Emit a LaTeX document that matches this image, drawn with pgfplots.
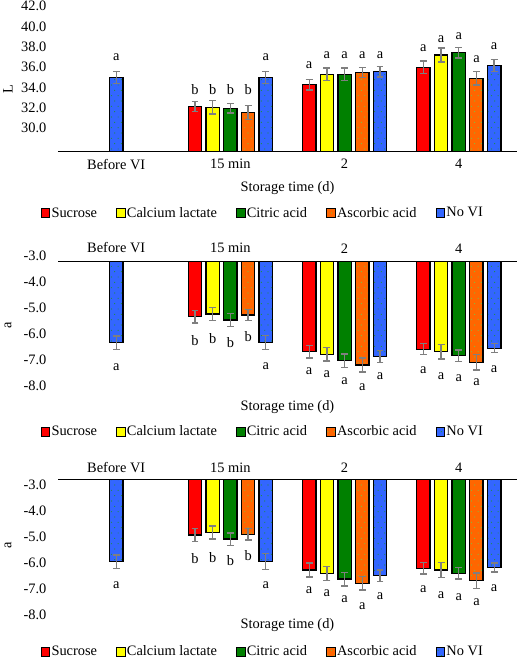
\documentclass[border=0pt]{standalone}
\usepackage{pgfplots}
\pgfplotsset{compat=1.18}
\usetikzlibrary{patterns}
\usepackage{fontspec}
\setmainfont{Liberation Serif}
\definecolor{cRed}{HTML}{FF0000}
\definecolor{cYel}{HTML}{FFFF00}
\definecolor{cGrn}{HTML}{008000}
\definecolor{cOrg}{HTML}{FF6600}
\definecolor{cBlu}{HTML}{3366FF}
\definecolor{cErr}{HTML}{7F7F7F}
\definecolor{dotA}{HTML}{7FBF3F}
\definecolor{dotB}{HTML}{1F8F3F}
\pgfdeclarepatternformonly{sparsedots}{\pgfqpoint{-1pt}{-1pt}}{\pgfqpoint{6pt}{9pt}}{\pgfqpoint{5pt}{8pt}}{%
  \pgfpathcircle{\pgfqpoint{1pt}{1pt}}{0.45pt}%
  \pgfpathcircle{\pgfqpoint{3.6pt}{5pt}}{0.45pt}%
  \pgfusepath{fill}}
\newcommand{\fnt}{\fontsize{10.8}{13}\selectfont}
\pgfplotsset{
  mybar/.style={ybar, bar width=0.117, bar shift=0pt, draw=black, line width=1pt,
    error bars/y dir=both, error bars/y explicit,
    error bars/error bar style={draw=cErr, line width=1pt},
    error bars/error mark options={rotate=90, draw=cErr, line width=1pt, mark size=2.6pt}},
  dotted bar/.style={postaction={pattern=sparsedots, pattern color=#1}},
  letters/.style={forget plot, only marks, mark=none, point meta=explicit symbolic,
    nodes near coords, nodes near coords style={anchor=center, font=\fnt}},
  base/.style={scale only axis, width=344.25pt, xmin=-0.51, xmax=3.51,
    xtick={0,1,2,3}, xticklabels={Before VI,15 min,2,4},
    axis y line=left, y axis line style={draw=none},
    major tick length=0pt,
    /pgf/number format/assume math mode=true,
    yticklabel style={xshift=-4.9pt, /pgf/number format/fixed, /pgf/number format/fixed zerofill, /pgf/number format/precision=1},
    font=\fnt,
    xlabel={Storage time (d)},
    legend columns=5,
    legend style={draw=none, fill=none, anchor=center, font=\fnt,
      nodes={inner sep=0.8pt},
      /tikz/every even column/.append style={column sep=13.4pt}},
    legend image code/.code={\draw[#1, draw=black, line width=0.8pt] (0pt,-3.3pt) rectangle (6.6pt,3.3pt);},
  },
  fixaxis/.style={every outer x axis line/.append style={-}, every inner x axis line/.append style={-},
    x axis line style={-, line width=1pt}, axis line style={-}},
}
\begin{document}
\fnt
\begin{tikzpicture}
\useasboundingbox (0,0) rectangle (387.75pt,-492.75pt);
% ---------------- L ----------------
\begin{axis}[base, at={(43.5pt,-113.78pt)}, anchor=south west,
  height=109.28pt, ymin=27.7, ymax=42, ytick={30,32,...,42},
  axis x line=bottom, fixaxis,
  xticklabel style={yshift=-2pt},
  xlabel style={at={(axis description cs:0.5,-0.251)}, anchor=center},
  ylabel={L}, ylabel style={at={(axis description cs:-0.109,0.43)}, anchor=center},
  legend style={at={(axis description cs:0.445,-0.423)}}]
\addplot[mybar, fill=cRed] coordinates {(0.69,32.13) +- (0,0.49) (1.69,34.28) +- (0,0.52) (2.69,35.99) +- (0,0.60)};
\addplot[mybar, fill=cYel] coordinates {(0.845,32.07) +- (0,0.67) (1.845,35.30) +- (0,0.60) (2.845,37.20) +- (0,0.69)};
\addplot[mybar, fill=cGrn] coordinates {(1,31.97) +- (0,0.46) (2,35.30) +- (0,0.60) (3,37.42) +- (0,0.52)};
\addplot[mybar, fill=cOrg, dotted bar=dotA] coordinates {(1.155,31.54) +- (0,0.67) (2.155,35.50) +- (0,0.49) (3.155,34.90) +- (0,0.65)};
\addplot[mybar, fill=cBlu, dotted bar=dotB] coordinates {(0,34.97) +- (0,0.60) (1.31,34.97) +- (0,0.60) (2.31,35.56) +- (0,0.52) (3.31,36.15) +- (0,0.57)};
\addplot[letters] coordinates {(0,36.97)[a] (0.69,33.83)[b] (0.845,33.83)[b] (1,33.83)[b] (1.155,33.83)[b] (1.31,36.97)[a]
  (1.69,36.15)[a] (1.845,37.2)[a] (2,37.2)[a] (2.155,37.2)[a] (2.31,37.2)[a]
  (2.69,37.85)[a] (2.845,38.74)[a] (3,39.06)[a] (3.155,36.77)[a] (3.31,38.08)[a]};
\legend{Sucrose,Calcium lactate,Citric acid,Ascorbic acid,No VI}
\end{axis}
% ---------------- a (middle) ----------------
\begin{axis}[base, at={(43.5pt,-195.98pt)}, anchor=north west,
  height=99.6pt, ymin=-8.3, ymax=-3.21, ytick={-4,-5,...,-8},
  extra y ticks={-3.21}, extra y tick labels={-3.0},
  extra y tick style={yticklabel style={yshift=4.1pt}},
  axis x line=top, fixaxis,
  xticklabel style={yshift=2.4pt},
  xlabel style={at={(axis description cs:0.5,-0.095)}, anchor=center},
  ylabel={a}, ylabel style={at={(axis description cs:-0.109,0.52)}, anchor=center},
  legend style={at={(axis description cs:0.445,-0.283)}}]
\addplot[mybar, fill=cRed] coordinates {(0.69,-5.33) +- (0,0.24) (1.69,-6.67) +- (0,0.24) (2.69,-6.58) +- (0,0.21)};
\addplot[mybar, fill=cYel] coordinates {(0.845,-5.23) +- (0,0.24) (1.845,-6.77) +- (0,0.26) (2.845,-6.67) +- (0,0.28)};
\addplot[mybar, fill=cGrn] coordinates {(1,-5.46) +- (0,0.24) (2,-7.02) +- (0,0.26) (3,-6.83) +- (0,0.22)};
\addplot[mybar, fill=cOrg, dotted bar=dotA] coordinates {(1.155,-5.27) +- (0,0.22) (2.155,-7.18) +- (0,0.27) (3.155,-7.08) +- (0,0.29)};
\addplot[mybar, fill=cBlu, dotted bar=dotB] coordinates {(0,-6.33) +- (0,0.26) (1.31,-6.33) +- (0,0.27) (2.31,-6.86) +- (0,0.22) (3.31,-6.54) +- (0,0.17)};
\addplot[letters] coordinates {(0,-7.25)[a] (0.69,-6.23)[b] (0.845,-6.19)[b] (1,-6.31)[b] (1.155,-6.1)[b] (1.31,-7.22)[a]
  (1.69,-7.44)[a] (1.845,-7.53)[a] (2,-7.79)[a] (2.155,-8.04)[a] (2.31,-7.63)[a]
  (2.69,-7.38)[a] (2.845,-7.6)[a] (3,-7.7)[a] (3.155,-7.86)[a] (3.31,-7.35)[a]};
\legend{Sucrose,Calcium lactate,Citric acid,Ascorbic acid,No VI}
\end{axis}
% ---------------- a (bottom) ----------------
\begin{axis}[base, at={(43.5pt,-359.48pt)}, anchor=north west,
  height=107.63pt, ymin=-8.3, ymax=-2.78, ytick={-3,-4,...,-8},
  axis x line=top, fixaxis,
  xticklabel style={yshift=1pt},
  xlabel style={at={(axis description cs:0.5,-0.015)}, anchor=center},
  ylabel={a}, ylabel style={at={(axis description cs:-0.109,0.542)}, anchor=center},
  legend style={at={(axis description cs:0.445,-0.201)}}]
\addplot[mybar, fill=cRed] coordinates {(0.69,-4.92) +- (0,0.24) (1.69,-6.27) +- (0,0.27) (2.69,-6.20) +- (0,0.22)};
\addplot[mybar, fill=cYel] coordinates {(0.845,-4.83) +- (0,0.25) (1.845,-6.40) +- (0,0.27) (2.845,-6.27) +- (0,0.29)};
\addplot[mybar, fill=cGrn] coordinates {(1,-5.08) +- (0,0.24) (2,-6.62) +- (0,0.26) (3,-6.40) +- (0,0.22)};
\addplot[mybar, fill=cOrg, dotted bar=dotA] coordinates {(1.155,-4.90) +- (0,0.22) (2.155,-6.78) +- (0,0.26) (3.155,-6.68) +- (0,0.30)};
\addplot[mybar, fill=cBlu, dotted bar=dotB] coordinates {(0,-5.95) +- (0,0.26) (1.31,-5.95) +- (0,0.31) (2.31,-6.49) +- (0,0.22) (3.31,-6.17) +- (0,0.17)};
\addplot[letters] coordinates {(0,-6.85)[a] (0.69,-5.82)[b] (0.845,-5.8)[b] (1,-5.92)[b] (1.155,-5.72)[b] (1.31,-6.85)[a]
  (1.69,-7.06)[a] (1.845,-7.17)[a] (2,-7.4)[a] (2.155,-7.65)[a] (2.31,-7.26)[a]
  (2.69,-7.0)[a] (2.845,-7.23)[a] (3,-7.33)[a] (3.155,-7.49)[a] (3.31,-6.97)[a]};
\legend{Sucrose,Calcium lactate,Citric acid,Ascorbic acid,No VI}
\end{axis}
\end{tikzpicture}
\end{document}
